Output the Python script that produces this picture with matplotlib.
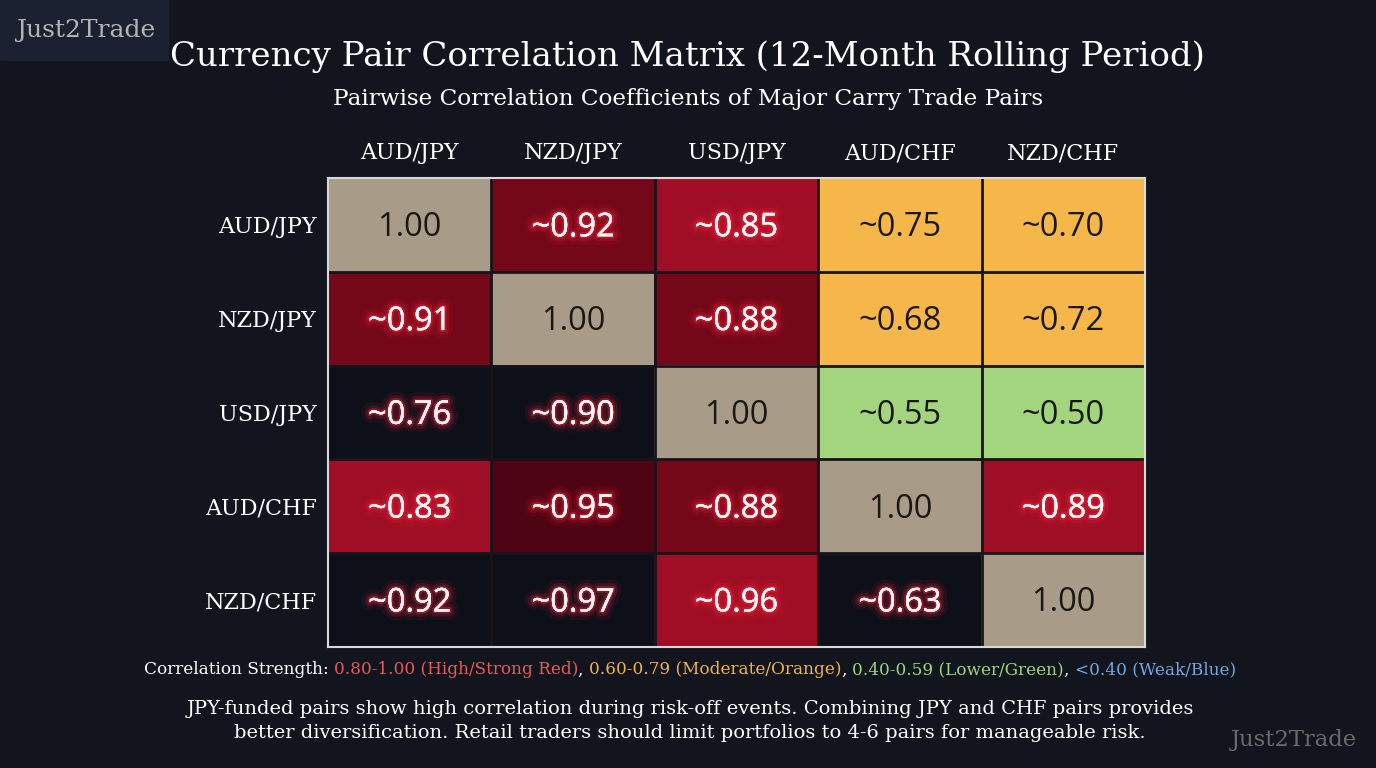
import matplotlib.pyplot as plt
import numpy as np
from matplotlib.colors import ListedColormap
from matplotlib import patheffects as pe
from matplotlib.offsetbox import TextArea, HPacker, AnchoredOffsetbox

# data
pairs = ['AUD/JPY', 'NZD/JPY', 'USD/JPY', 'AUD/CHF', 'NZD/CHF']
corr = np.array([
    [1.00, 0.92, 0.85, 0.75, 0.70],
    [0.91, 1.00, 0.88, 0.68, 0.72],
    [0.76, 0.90, 1.00, 0.55, 0.50],
    [0.83, 0.95, 0.88, 1.00, 0.89],
    [0.92, 0.97, 0.96, 0.63, 1.00],
])
# cell shade as drawn in the chart (not strictly by value)
tone_names = ['diag', 'dark', 'bright', 'darkest', 'orange', 'green', 'black']
tone_colors = ['#a89c88', '#740818', '#9e0f25', '#4e0413', '#f5b64a', '#a3d47e', '#0d1019']
tones = [
    ['diag', 'dark', 'bright', 'orange', 'orange'],
    ['dark', 'diag', 'dark', 'orange', 'orange'],
    ['black', 'black', 'diag', 'green', 'green'],
    ['bright', 'darkest', 'dark', 'diag', 'bright'],
    ['black', 'black', 'bright', 'black', 'diag'],
]
legend_parts = [
    ('Correlation Strength: ', '#ffffff'),
    ('0.80-1.00 (High/Strong Red)', '#e8595b'),
    (', ', '#ffffff'),
    ('0.60-0.79 (Moderate/Orange)', '#f0b24c'),
    (', ', '#ffffff'),
    ('0.40-0.59 (Lower/Green)', '#a0d47c'),
    (', ', '#ffffff'),
    ('<0.40 (Weak/Blue)', '#72a6e2'),
]

BG = '#12151d'
SERIF = 'DejaVu Serif'
SANS = 'Open Sans'

fig = plt.figure(figsize=(13.76, 7.68), dpi=100, facecolor=BG)

# watermark box top left
fig.patches.append(plt.Rectangle((0, 1 - 60 / 768), 168 / 1376, 60 / 768,
                                 transform=fig.transFigure, color='#1b2130', zorder=0))
fig.text(86 / 1376, 1 - 30 / 768, 'Just2Trade', ha='center', va='center',
         fontsize=18, color='#b4b4b4', family=SERIF)
fig.text(1294 / 1376, 1 - 740 / 768, 'Just2Trade', ha='center', va='center',
         fontsize=16.3, color='#6a6a6a', family=SERIF)

fig.text(0.5, 1 - 57 / 768, 'Currency Pair Correlation Matrix (12-Month Rolling Period)',
         ha='center', va='center', fontsize=24.5, color='white', family=SERIF)
fig.text(0.5, 1 - 99 / 768, 'Pairwise Correlation Coefficients of Major Carry Trade Pairs',
         ha='center', va='center', fontsize=16.7, color='white', family=SERIF)

ax = fig.add_axes([328 / 1376, 1 - 647 / 768, 817 / 1376, 469 / 768])
idx = np.array([[tone_names.index(t) for t in row] for row in tones])
ax.imshow(idx, cmap=ListedColormap(tone_colors), vmin=-0.5, vmax=len(tone_colors) - 0.5,
          aspect='auto', extent=(-0.5, 4.5, 4.5, -0.5), interpolation='nearest')
for k in np.arange(0.5, 4.5, 1):
    ax.axhline(k, color='#15151a', lw=2)
    ax.axvline(k, color='#15151a', lw=2)
for s in ax.spines.values():
    s.set_color('#d8d8d8')
    s.set_linewidth(1.5)

glow = [pe.withStroke(linewidth=12, foreground=(1, 0.1, 0.2, 0.08)),
        pe.withStroke(linewidth=7, foreground=(1, 0.12, 0.22, 0.16)),
        pe.withStroke(linewidth=3, foreground=(0.95, 0.2, 0.3, 0.35)),
        pe.Normal()]
n = len(pairs)
for i in range(n):
    for j in range(n):
        t = tones[i][j]
        label = '%.2f' % corr[i, j] if i == j else '~%.2f' % corr[i, j]
        if t in ('diag', 'orange', 'green'):
            ax.text(j, i + 0.03, label, ha='center', va='center', fontsize=23.5,
                    color='#1b1712', family=SANS)
        else:
            ax.text(j, i + 0.03, label, ha='center', va='center', fontsize=23.5,
                    color='#fff4f4', family=SANS, path_effects=glow)

ax.set_xticks(range(n))
ax.set_xticklabels(pairs, family=SERIF, fontsize=16, color='white')
ax.set_yticks(range(n))
ax.set_yticklabels(pairs, family=SERIF, fontsize=16, color='white')
ax.xaxis.tick_top()
ax.tick_params(axis='x', length=0, pad=10)
ax.tick_params(axis='y', length=0, pad=8)

# multi-coloured legend line
boxes = [TextArea(s, textprops=dict(color=c, fontsize=12.2, family=SERIF)) for s, c in legend_parts]
pack = HPacker(children=boxes, align='baseline', pad=0, sep=0)
anch = AnchoredOffsetbox(loc='center', child=pack, frameon=False,
                         bbox_to_anchor=(690 / 1376, 1 - 670 / 768),
                         bbox_transform=fig.transFigure, borderpad=0, pad=0)
fig.add_artist(anch)

fig.text(690 / 1376, 1 - 721 / 768,
         'JPY-funded pairs show high correlation during risk-off events. Combining JPY and CHF pairs provides\n'
         'better diversification. Retail traders should limit portfolios to 4-6 pairs for manageable risk.',
         ha='center', va='center', fontsize=14, color='white', family=SERIF, linespacing=1.4)

fig.savefig('out.png', dpi=100, facecolor=BG)
